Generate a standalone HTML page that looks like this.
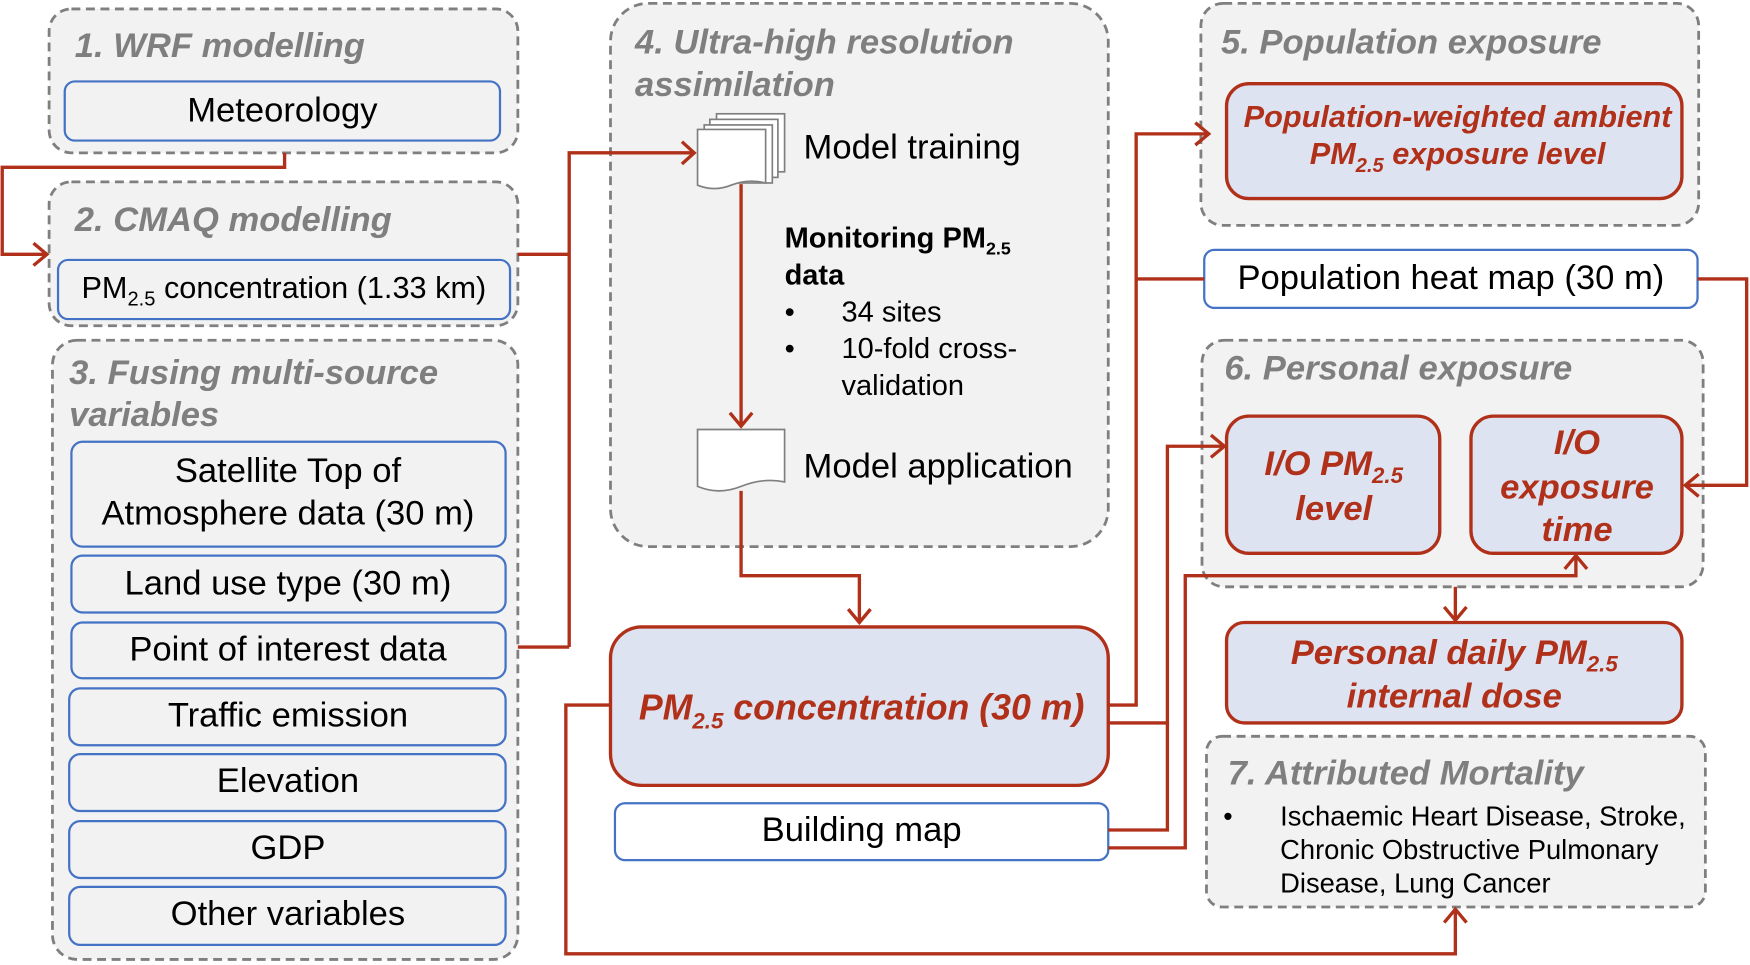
<!DOCTYPE html>
<html><head><meta charset="utf-8"><style>
html,body{margin:0;padding:0;background:#fff;}
svg{display:block;font-family:"Liberation Sans",Arial,sans-serif;}
.g{fill:#f2f2f2;stroke:#7f7f7f;stroke-width:2.5;stroke-dasharray:8,5;}
.b{fill:#f2f2f2;stroke:#4472c4;stroke-width:2;}
.w{fill:#fff;stroke:#4472c4;stroke-width:2;}
.r{fill:#dee3f1;stroke:#b0301a;stroke-width:3;}
.t{font-size:31px;font-weight:bold;font-style:italic;fill:#7f7f7f;}
.n{font-size:31px;fill:#000;}
.rt{font-weight:bold;font-style:italic;fill:#b0301a;}
.l{fill:none;stroke:#b0301a;stroke-width:3;}
</style></head><body>
<svg width="1750" height="965" viewBox="0 0 1568 865" preserveAspectRatio="none">
<!-- Box 1 -->
<rect class="g" x="44" y="8" width="420" height="129" rx="20"/>
<text class="t" x="67" y="51">1. WRF modelling</text>
<rect class="b" x="58" y="73" width="390" height="53" rx="9"/>
<text class="n" x="253" y="109" text-anchor="middle">Meteorology</text>
<!-- Box 2 -->
<rect class="g" x="44" y="163" width="420" height="129" rx="20"/>
<text class="t" x="67" y="207">2. CMAQ modelling</text>
<rect class="b" x="52" y="233" width="405" height="53" rx="9"/>
<text x="73" y="267" style="font-size:27.5px">PM<tspan style="font-size:18px" dy="7">2.5</tspan><tspan dy="-7"> concentration (1.33 km)</tspan></text>
<!-- Box 3 -->
<rect class="g" x="47" y="305" width="417" height="555" rx="22"/>
<text class="t" x="62" y="344">3. Fusing multi-source</text>
<text class="t" x="62" y="382">variables</text>
<rect class="b" x="64" y="396" width="389" height="94" rx="10"/>
<text class="n" x="258" y="432" text-anchor="middle">Satellite Top of</text>
<text class="n" x="258" y="470" text-anchor="middle">Atmosphere data (30 m)</text>
<rect class="b" x="64" y="498" width="389" height="51" rx="10"/>
<text class="n" x="258" y="533" text-anchor="middle">Land use type (30 m)</text>
<rect class="b" x="64" y="558" width="389" height="50" rx="10"/>
<text class="n" x="258" y="592" text-anchor="middle">Point of interest data</text>
<rect class="b" x="62" y="617" width="391" height="51" rx="10"/>
<text class="n" x="258" y="651" text-anchor="middle">Traffic emission</text>
<rect class="b" x="62" y="676" width="391" height="51" rx="10"/>
<text class="n" x="258" y="710" text-anchor="middle">Elevation</text>
<rect class="b" x="62" y="736" width="391" height="51" rx="10"/>
<text class="n" x="258" y="770" text-anchor="middle">GDP</text>
<rect class="b" x="62" y="795" width="391" height="52" rx="10"/>
<text class="n" x="258" y="829" text-anchor="middle">Other variables</text>
<!-- Box 4 -->
<rect class="g" x="547" y="3" width="446" height="487" rx="34"/>
<text class="t" x="569" y="48">4. Ultra-high resolution</text>
<text class="t" x="569" y="86">assimilation</text>
<g fill="#fff" stroke="#7f7f7f" stroke-width="1.5">
<rect x="642" y="102" width="61" height="52"/>
<rect x="636" y="107" width="61" height="52"/>
<rect x="631" y="112" width="61" height="52"/>
<path d="M625 116 H686 V164 Q670 160 655 166 Q640 172 625 166 Z"/>
<path d="M625 385 H703 V432 Q684 428 664 436 Q644 444 625 436 Z"/>
</g>
<text class="n" x="720" y="142">Model training</text>
<text x="703" y="222" font-size="26" font-weight="bold">Monitoring PM<tspan font-size="16" dy="6">2.5</tspan></text>
<text x="703" y="255" font-size="26" font-weight="bold">data</text>
<text x="703" y="288" font-size="26">•</text><text x="754" y="288" font-size="26">34 sites</text>
<text x="703" y="321" font-size="26">•</text><text x="754" y="321" font-size="26">10-fold cross-</text>
<text x="754" y="354" font-size="26">validation</text>
<text class="n" x="720" y="428">Model application</text>
<!-- PM 30m -->
<rect class="r" x="547" y="562" width="446" height="142" rx="28"/>
<text class="rt" x="772" y="645" text-anchor="middle" font-size="32">PM<tspan font-size="20" dy="8">2.5</tspan><tspan dy="-8"> concentration (30 m)</tspan></text>
<rect class="w" x="551" y="720" width="442" height="51" rx="9"/>
<text class="n" x="772" y="754" text-anchor="middle">Building map</text>
<!-- Box 5 -->
<rect class="g" x="1076" y="3" width="446" height="199" rx="20"/>
<text class="t" x="1094" y="48">5. Population exposure</text>
<rect class="r" x="1099" y="75" width="408" height="103" rx="20"/>
<text class="rt" x="1306" y="114" text-anchor="middle" font-size="27.5">Population-weighted ambient</text>
<text class="rt" x="1306" y="147" text-anchor="middle" font-size="27.5">PM<tspan font-size="18" dy="7">2.5</tspan><tspan dy="-7"> exposure level</tspan></text>
<rect class="w" x="1079" y="224" width="442" height="52" rx="9"/>
<text class="n" x="1300" y="259" text-anchor="middle">Population heat map (30 m)</text>
<!-- Box 6 -->
<rect class="g" x="1077" y="305" width="449" height="221" rx="20"/>
<text class="t" x="1097" y="340">6. Personal exposure</text>
<rect class="r" x="1099" y="373" width="191" height="123" rx="20"/>
<text class="rt" x="1195" y="426" text-anchor="middle" font-size="31">I/O PM<tspan font-size="20" dy="7">2.5</tspan></text>
<text class="rt" x="1195" y="466" text-anchor="middle" font-size="31">level</text>
<rect class="r" x="1318" y="373" width="189" height="123" rx="20"/>
<text class="rt" x="1413" y="407" text-anchor="middle" font-size="31">I/O</text>
<text class="rt" x="1413" y="447" text-anchor="middle" font-size="31">exposure</text>
<text class="rt" x="1413" y="485" text-anchor="middle" font-size="31">time</text>
<rect class="r" x="1099" y="558" width="408" height="90" rx="16"/>
<text class="rt" x="1303" y="595" text-anchor="middle" font-size="31">Personal daily PM<tspan font-size="20" dy="7">2.5</tspan></text>
<text class="rt" x="1303" y="634" text-anchor="middle" font-size="31">internal dose</text>
<!-- Box 7 -->
<rect class="g" x="1081" y="660" width="447" height="153" rx="14"/>
<text class="t" x="1100" y="703">7. Attributed Mortality</text>
<text x="1096" y="740" font-size="24">•</text>
<text x="1147" y="740" font-size="24.5">Ischaemic Heart Disease, Stroke,</text>
<text x="1147" y="770" font-size="24.5">Chronic Obstructive Pulmonary</text>
<text x="1147" y="800" font-size="24.5">Disease, Lung Cancer</text>
<!-- connectors -->
<g class="l">
<polyline points="255,137 255,150 2,150 2,228 42,228"/><polyline points="30,218 42,228 30,238"/>
<polyline points="464,228 510,228"/><polyline points="510,580 510,137 622,137"/><polyline points="464,580 510,580"/>
<polyline points="611,127 622,137 611,147"/>
<polyline points="664,165 664,382"/><polyline points="654,370 664,382 674,370"/>
<polyline points="664,440 664,516 770,516 770,558"/><polyline points="760,546 770,558 780,546"/>
<polyline points="993,632 1018,632 1018,120 1083,120"/><polyline points="1071,110 1083,120 1071,130"/>
<polyline points="1018,250 1079,250"/>
<polyline points="1521,250 1565,250 1565,435 1510,435"/><polyline points="1522,425 1510,435 1522,445"/>
<polyline points="993,648 1046,648 1046,400 1097,400"/><polyline points="1085,390 1097,400 1085,410"/>
<polyline points="993,744 1046,744 1046,648"/>
<polyline points="993,760 1062,760 1062,516 1412,516 1412,498"/><polyline points="1402,510 1412,498 1422,510"/>
<polyline points="1304,526 1304,556"/><polyline points="1294,544 1304,556 1314,544"/>
<polyline points="547,632 507,632 507,855 1304,855 1304,815"/><polyline points="1294,827 1304,815 1314,827"/>
</g>
</svg>
</body></html>
